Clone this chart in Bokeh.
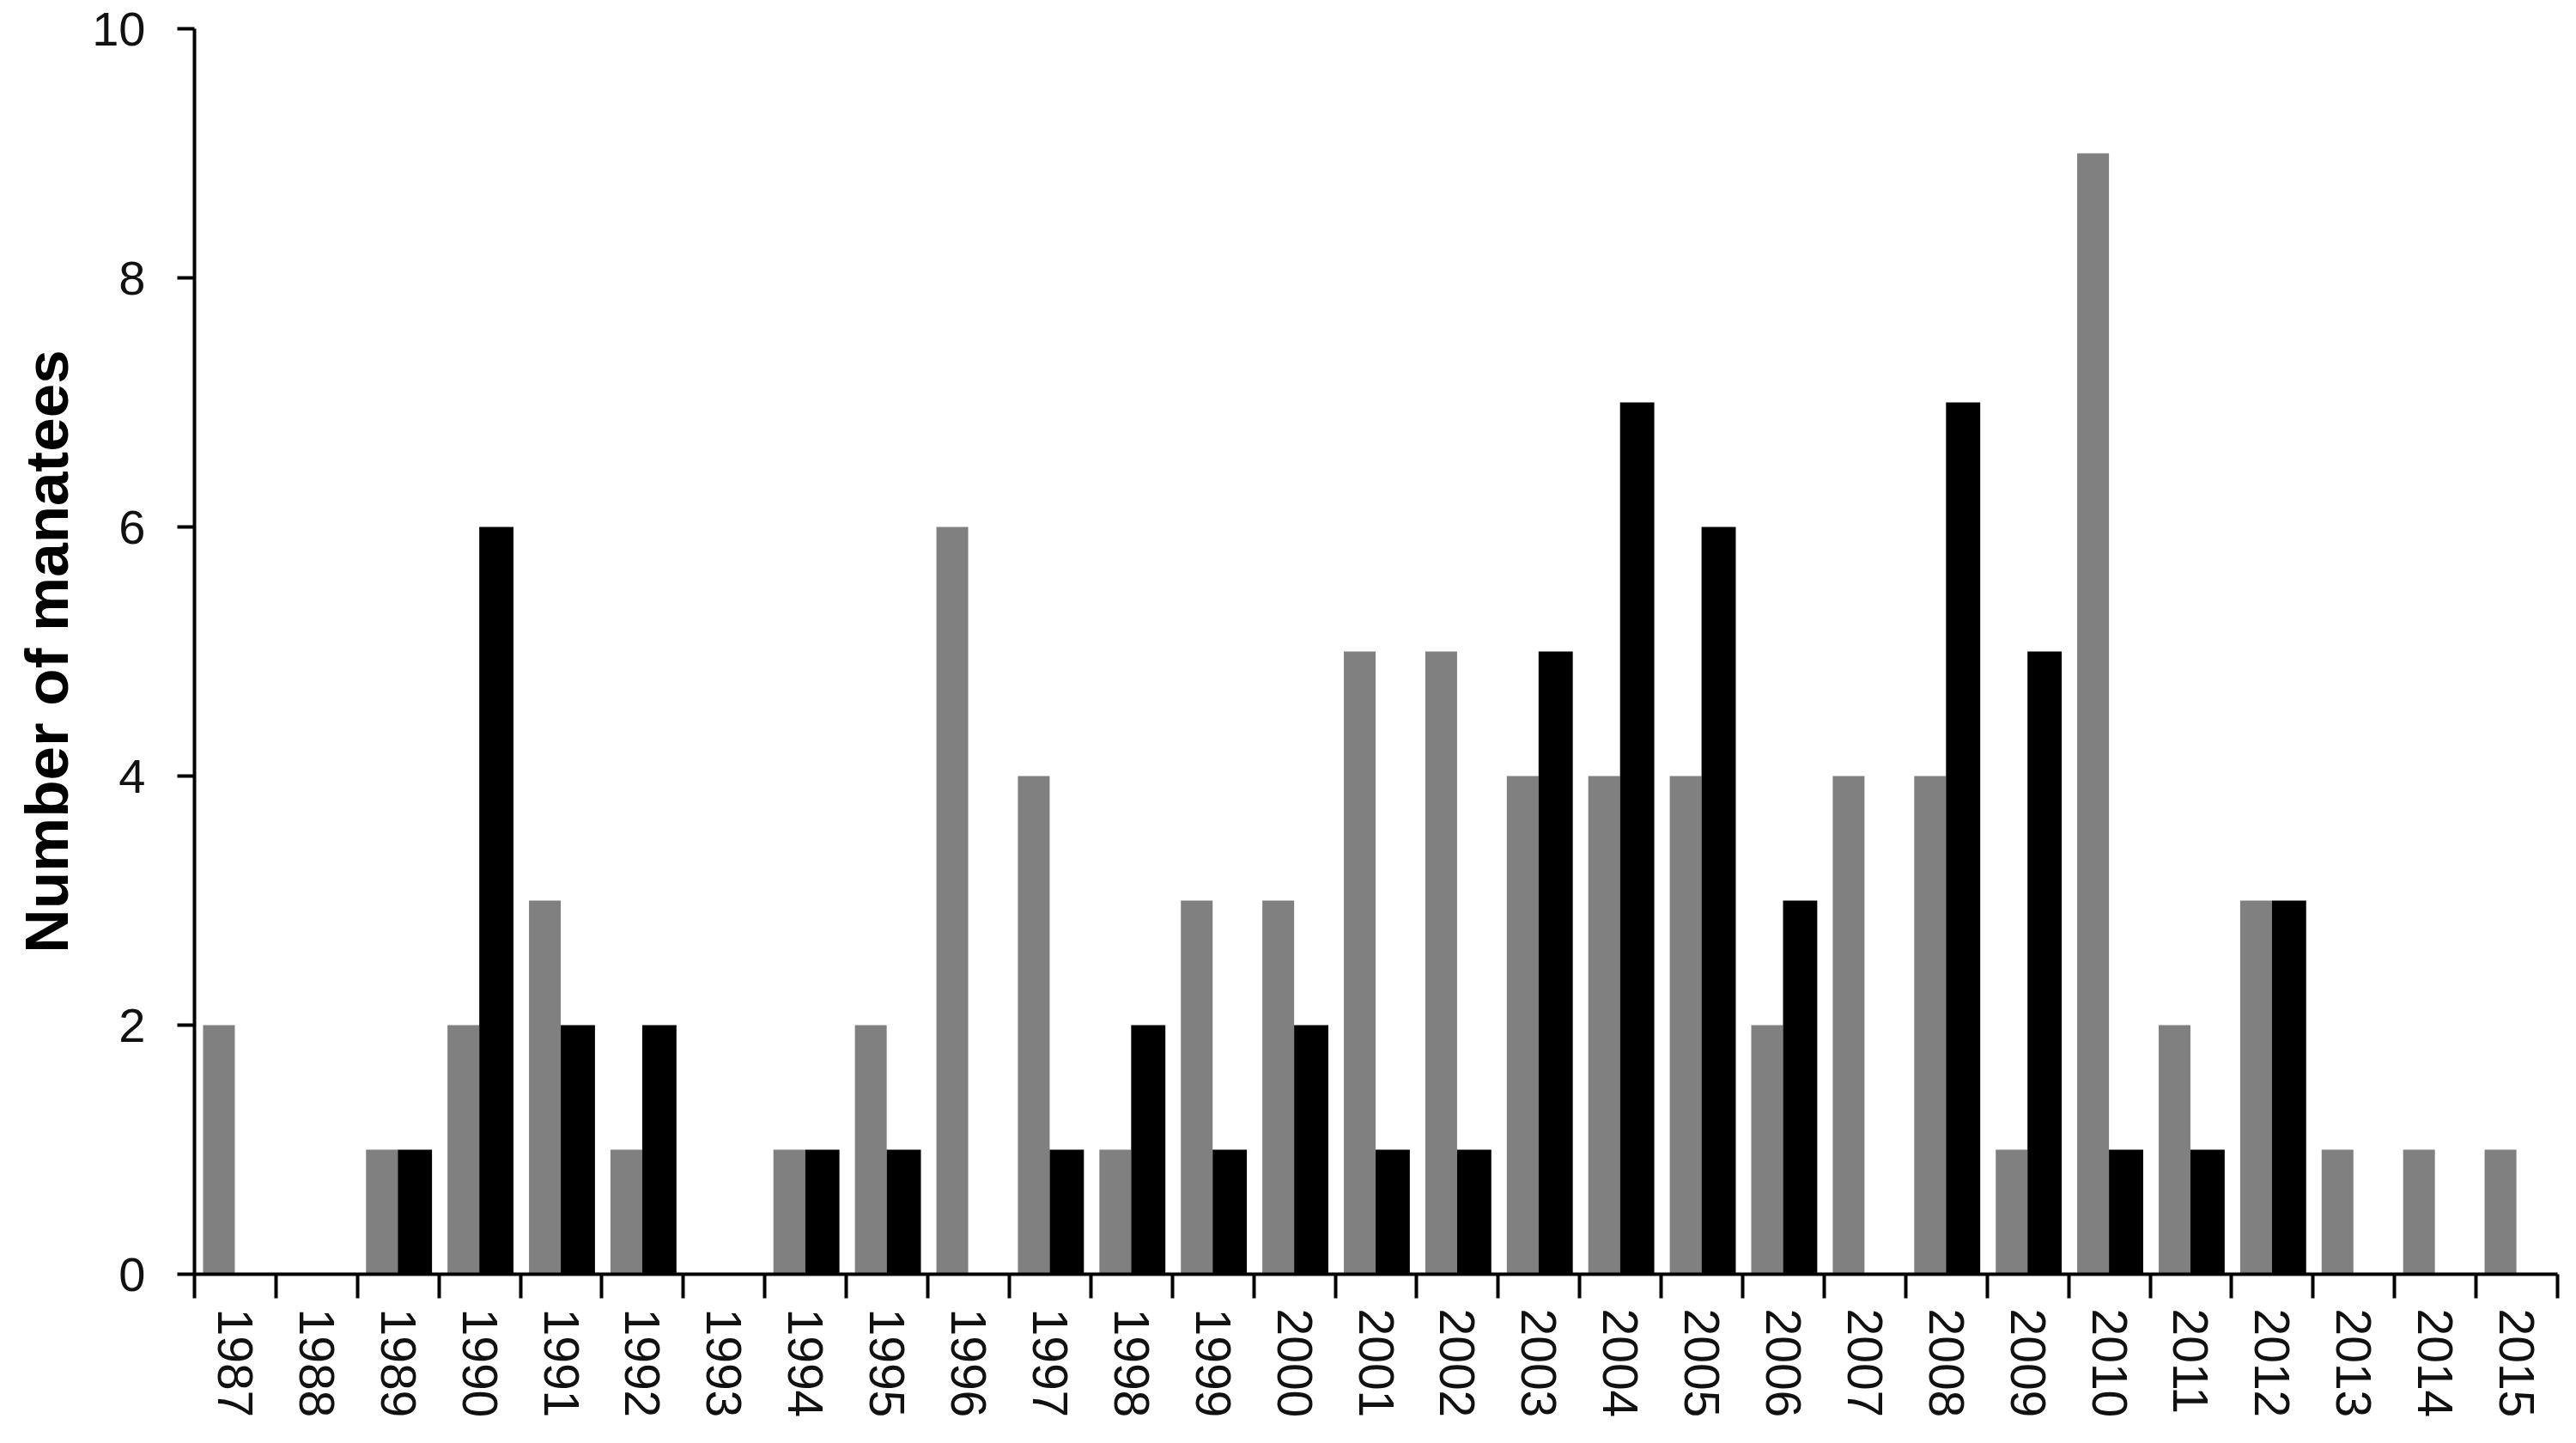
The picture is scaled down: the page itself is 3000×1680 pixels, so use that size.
from bokeh.plotting import figure
from bokeh.models import ColumnDataSource, Range1d, FixedTicker
from bokeh.transform import dodge
from bokeh.embed import file_html
from bokeh.resources import INLINE

years = list(range(1987, 2016))
gray_values = [2, 0, 1, 2, 3, 1, 0, 1, 2, 6, 4, 1, 3, 3, 5, 5, 4, 4, 4, 2, 4, 4, 1, 9, 2, 3, 1, 1, 1]
black_values = [0, 0, 1, 6, 2, 2, 0, 1, 1, 0, 1, 2, 1, 2, 1, 1, 5, 7, 6, 3, 0, 7, 5, 1, 1, 3, 0, 0, 0]
y_ticks = [0, 2, 4, 6, 8, 10]

src = ColumnDataSource(dict(year=years, gray=gray_values, black=black_values))

p = figure(width=2984, height=1664, output_backend="svg", toolbar_location=None,
           x_range=Range1d(years[0] - 0.5, years[-1] + 0.5), y_range=Range1d(0, 10),
           min_border_left=226, min_border_right=6, min_border_top=33, min_border_bottom=181)
p.background_fill_color = "white"
p.border_fill_color = "white"
p.outline_line_color = None
p.xgrid.grid_line_color = None
p.ygrid.grid_line_color = None

p.vbar(x=dodge('year', -0.2, range=p.x_range), top='gray', width=0.39, source=src,
       fill_color="#808080", line_color=None)
p.vbar(x=dodge('year', 0.205, range=p.x_range), top='black', width=0.42, source=src,
       fill_color="#000000", line_color=None)

font = "Liberation Sans"

# x axis
xa = p.xaxis[0]
xa.ticker = FixedTicker(ticks=years, minor_ticks=[y - 0.5 for y in years] + [years[-1] + 0.5])
xa.major_label_overrides = {y: str(y) for y in years}
xa.major_label_orientation = "vertical"
xa.major_tick_out = 0
xa.major_tick_in = 0
xa.minor_tick_out = 28
xa.minor_tick_in = 0
xa.minor_tick_line_width = 4
xa.minor_tick_line_color = "black"
xa.axis_line_width = 4
xa.axis_line_color = "black"
xa.major_label_standoff = 12
xa.major_label_text_font = font
xa.major_label_text_font_size = "57px"
xa.major_label_text_color = "#111111"

# y axis
ya = p.yaxis[0]
ya.ticker = FixedTicker(ticks=y_ticks)
ya.major_tick_out = 20
ya.major_tick_in = 0
ya.minor_tick_line_color = None
ya.major_tick_line_width = 4
ya.axis_line_width = 4
ya.axis_line_color = "black"
ya.major_label_standoff = 37
ya.major_label_text_font = font
ya.major_label_text_font_size = "56px"
ya.major_label_text_color = "#111111"
ya.axis_label = "Number of manatees"
ya.axis_label_text_font = font
ya.axis_label_text_font_style = "bold"
ya.axis_label_text_font_size = "71px"
ya.axis_label_text_color = "black"
ya.axis_label_standoff = 10

open("out.html", "w").write(file_html(p, INLINE))
